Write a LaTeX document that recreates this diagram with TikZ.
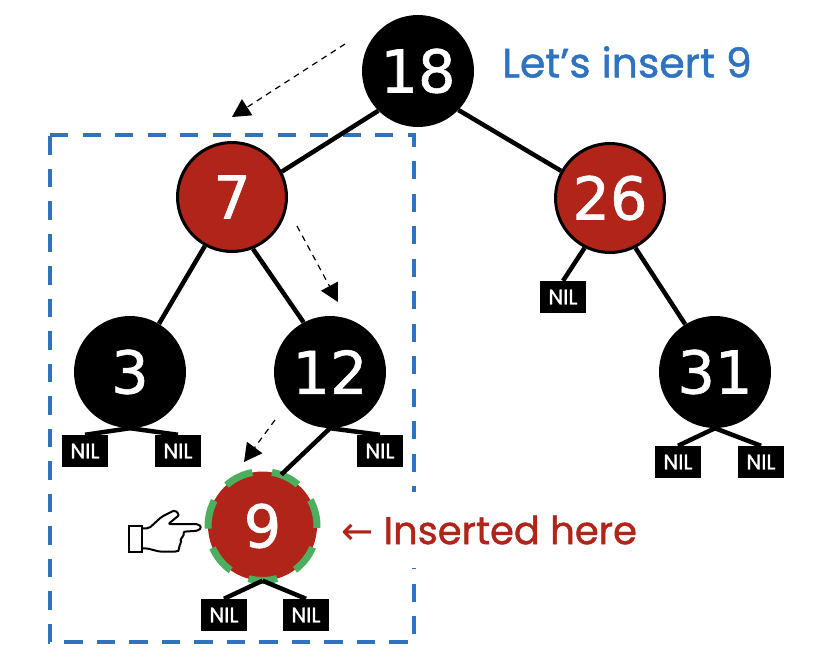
\documentclass[tikz,border=0pt]{standalone}
\usepackage{fontspec}
\setmainfont[FakeBold=1.2]{Poppins}
\newfontfamily\symbfont{DejaVu Sans}
\newfontfamily\digitfont[FakeBold=1]{DejaVu Sans}
\usepackage{tikz}
\usetikzlibrary{arrows.meta}
\definecolor{rbred}{HTML}{B0241A}
\definecolor{rbblue}{HTML}{2F73BF}
\definecolor{rbgreen}{HTML}{4CAF5F}
\tikzset{
vertex/.style={circle,minimum size=109pt,inner sep=0pt,text=white,font=\digitfont\fontsize{59}{59}\selectfont},
blackv/.style={vertex,fill=black,minimum size=112pt},
redv/.style={vertex,fill=rbred,draw=black,line width=3pt},
nil/.style={fill=black,text=white,minimum width=46pt,minimum height=32pt,inner sep=0pt,font=\fontsize{21}{21}\selectfont},
edge/.style={line width=4.5pt},
walk/.style={-{Triangle[length=18pt,width=19pt]},line width=1.2pt,dash pattern=on 6pt off 5pt},
}
\begin{document}
\begin{tikzpicture}[x=1pt,y=-1pt]
\useasboundingbox(0,0)rectangle(828,672);
\draw[rbblue,line width=4.5pt,dash pattern=on 18.3pt off 14.2pt](50,135)--(414,135)--(414,642)--(50,642)--cycle;
\node[fill=white,text=rbred,inner xsep=0pt,minimum height=76pt,font=\fontsize{38.5}{38.5}\selectfont](ins)at(489,530){{\symbfont←} Inserted here};
\node[blackv](n18)at(418,71){18};\node[redv](n7)at(232,197){7};\node[redv](n26)at(610,198){26};
\node[blackv](n3)at(130,372){3};\node[blackv](n12)at(330,372){12};\node[blackv](n31)at(715,372){31};
\node[vertex,fill=rbred](n9)at(262.5,526){9};
\draw[rbgreen,line width=7pt,dash pattern=on 29pt off 19.9pt](n9.center)++(2:54.5)arc[start angle=2,end angle=-358,radius=54.5];
\node[nil](a)at(85,451){NIL};\node[nil](b)at(178,451){NIL};\node[nil](c)at(380,451){NIL};\node[nil](d)at(563,297){NIL};
\node[nil](e)at(678,462){NIL};\node[nil](f)at(761,462){NIL};\node[nil](g)at(224,615){NIL};\node[nil](h)at(306,615){NIL};
\draw[edge](n18.-135)--(n7.27);\draw[edge](n18.-44)--(n26.151);\draw[edge](n7.-119)--(n3.59);\draw[edge](n7.-68)--(n12.118);\draw[edge](n26.-117)--(d.north);\draw[edge](n26.-63)--(n31.122);
\draw[edge](n3.south)--(a.north);\draw[edge](n3.south)--(b.north);\draw[edge](n12.south)--(n9.70);\draw[edge](n12.south)--(c.north);
\draw[edge](n31.south)--(e.north);\draw[edge](n31.south)--(f.north);\draw[edge](n9.south)--(g.north);\draw[edge](n9.south)--(h.north);
\node[text=rbblue,font=\fontsize{41}{41}\selectfont](lets)at(627,62){Let’s insert 9};
\coordinate(s1)at(345,44);\coordinate(t1)at(232,117);\coordinate(s2)at(297,226);\coordinate(t2)at(338,302);\coordinate(s3)at(275,420);\coordinate(t3)at(244,462);
\draw[walk](s1)--(t1);\draw[walk](s2)--(t2);\draw[walk](s3)--(t3);
% pointing hand
\draw[line width=2pt,fill=white](128.5,526)rectangle(141.7,552);
\draw[line width=2pt,rounded corners=2pt,line join=round](141.7,528.3)--(149,528.3)--(161.7,516.7)--(175,510)--(179.3,515)--(168.3,524)--(198.3,524)--(201.5,527.3)--(198.3,530.7)--(183.3,531.7)--(184,536.7)--(180,538.3)--(181.7,543.3)--(178.3,546)--(180,550)--(176.7,551.7)--(160,551.7)--(146.7,548.3)--(141.7,548.3);
\end{tikzpicture}
\end{document}
